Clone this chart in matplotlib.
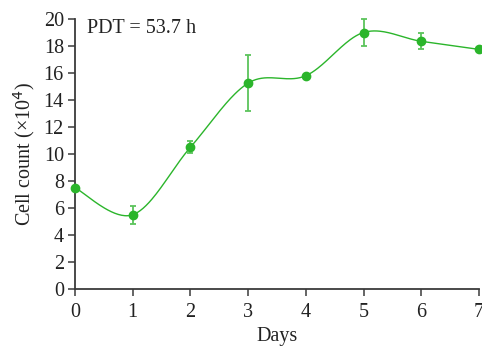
import numpy as np
import matplotlib
matplotlib.use("Agg")
import matplotlib.pyplot as plt

days = [0, 1, 2, 3, 4, 5, 6, 7]
counts = [7.5, 5.5, 10.5, 15.25, 15.8, 19.0, 18.35, 17.75]
errors = [0.0, 0.65, 0.45, 2.05, 0.0, 1.0, 0.6, 0.0]
label_pdt = "PDT = 53.7 h"

plt.rcParams['font.family'] = ['Liberation Serif', 'DejaVu Serif']


def smooth_line(x, y, n=40):
    # Catmull-Rom style bezier smoothing (like spreadsheet "smoothed line")
    x = np.asarray(x, float)
    y = np.asarray(y, float)
    px = np.concatenate([[x[0]], x, [x[-1]]])
    py = np.concatenate([[y[0]], y, [y[-1]]])
    xs, ys = [], []
    t = np.linspace(0, 1, n)
    for i in range(1, len(px) - 2):
        p0 = np.array([px[i], py[i]])
        p3 = np.array([px[i + 1], py[i + 1]])
        p1 = p0 + (np.array([px[i + 1], py[i + 1]]) - np.array([px[i - 1], py[i - 1]])) / 6
        p2 = p3 - (np.array([px[i + 2], py[i + 2]]) - np.array([px[i], py[i]])) / 6
        b = ((1 - t) ** 3)[:, None] * p0 + (3 * (1 - t) ** 2 * t)[:, None] * p1 \
            + (3 * (1 - t) * t ** 2)[:, None] * p2 + (t ** 3)[:, None] * p3
        xs.extend(b[:, 0])
        ys.extend(b[:, 1])
    return np.array(xs), np.array(ys)


green = "#2bb52b"
fig = plt.figure(figsize=(4.82, 3.47), dpi=100)
ax = fig.add_axes([75 / 482, 1 - 289 / 347, 404 / 482, 270 / 347])

sx, sy = smooth_line(days, counts)
ax.plot(sx, sy, color=green, lw=1.0, zorder=2, clip_on=False)
ax.errorbar(days, counts, yerr=errors, fmt="none", ecolor="#5cc45c",
            elinewidth=1.3, capsize=2.5, capthick=1.3, zorder=3, clip_on=False)
ax.plot(days, counts, "o", color=green, ms=6, zorder=4, clip_on=False)

ax.set_xlim(0, 7)
ax.set_ylim(0, 20)
ax.set_xticks(days)
ax.set_yticks(range(0, 21, 2))
for s in ["top", "right"]:
    ax.spines[s].set_visible(False)
for s in ["left", "bottom"]:
    ax.spines[s].set_color("#3a3a3a")
    ax.spines[s].set_linewidth(1.3)
ax.tick_params(direction="out", length=5, width=1.1, color="#3a3a3a",
               labelsize=14.5, labelcolor="#222222")
ax.tick_params(axis="x", pad=5)
ax.tick_params(axis="y", pad=3)
ax.set_xlabel("Days", fontsize=14.5, color="#222222", labelpad=4)
ax.set_ylabel("Cell count (×10$^4$)", fontsize=14.5, color="#222222", labelpad=5)
ax.text(0.21, 19.3, label_pdt, fontsize=14.5, color="#222222", va="center")

fig.savefig("out.png", dpi=100)
